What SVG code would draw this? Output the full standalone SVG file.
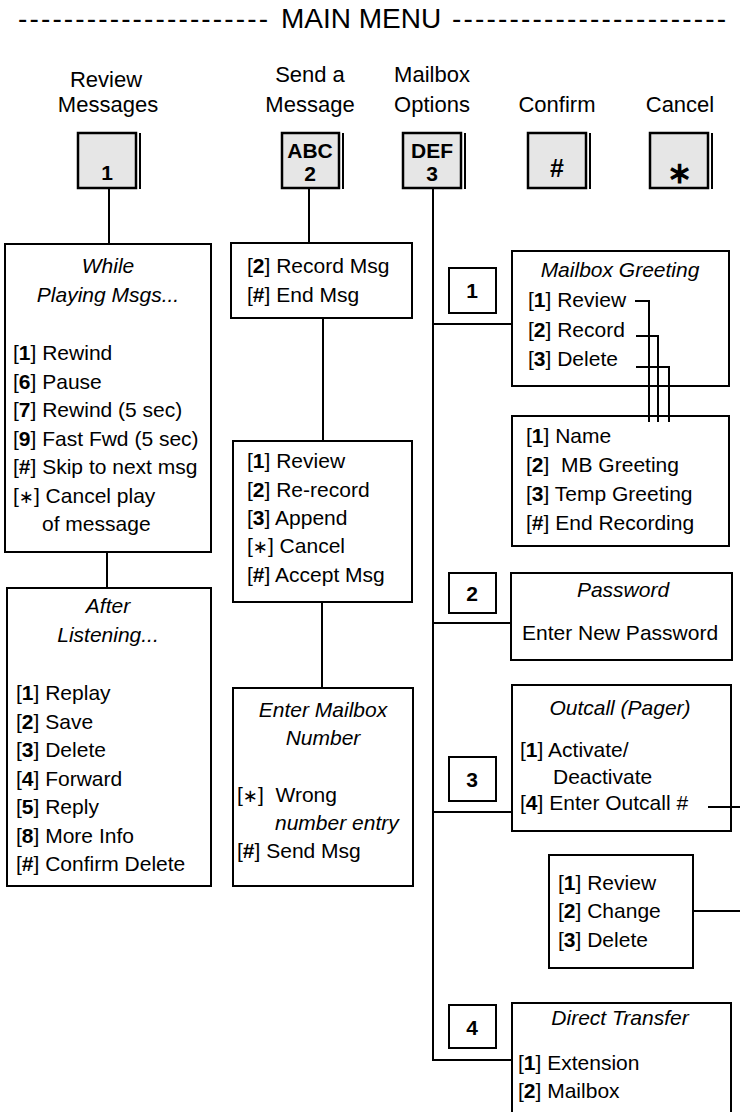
<svg xmlns="http://www.w3.org/2000/svg" width="740" height="1112" viewBox="0 0 740 1112">
<style>
text { font-family: "Liberation Sans", Arial, sans-serif; fill: #000; }
.it { font-size: 21px; }
.lb { font-size: 22px; text-anchor: middle; }
.ttl { font-size: 21px; font-style: italic; text-anchor: middle; }
.b { font-weight: bold; }
.st { font-family: "DejaVu Sans", sans-serif; font-weight: normal; font-size: 18px; }
.kt { font-size: 21px; font-weight: bold; text-anchor: middle; }
.kh { font-size: 25px; font-weight: bold; text-anchor: middle; }
.box { fill: #fff; stroke: #000; stroke-width: 2; }
.key { fill: #e6e6e6; stroke: #000; stroke-width: 2.5; }
.ln { stroke: #000; stroke-width: 2; fill: none; }
.nb { fill: #fff; stroke: #000; stroke-width: 2; }
</style>
<rect x="0" y="0" width="740" height="1112" fill="#fff"/>

<g id="title">
  <text x="18" y="28" font-size="28" textLength="250" lengthAdjust="spacing">----------------------</text>
  <text x="281" y="28" font-size="28">MAIN MENU</text>
  <text x="452" y="28" font-size="28" textLength="274" lengthAdjust="spacing">------------------------</text>
</g>

<g id="key-1">
  <text class="lb" x="106" y="87">Review</text>
  <text class="lb" x="108" y="112">Messages</text>
  <rect class="key" x="78" y="133" width="58" height="55"/>
  <line class="ln" x1="140" y1="133" x2="140" y2="189"/>
  <text class="kt" x="107" y="180">1</text>
</g>
<g id="key-2">
  <text class="lb" x="310" y="82">Send a</text>
  <text class="lb" x="310" y="112">Message</text>
  <rect class="key" x="282" y="133" width="57" height="55"/>
  <line class="ln" x1="343" y1="133" x2="343" y2="189"/>
  <text class="kt" x="310" y="158">ABC</text>
  <text class="kt" x="310" y="181">2</text>
</g>
<g id="key-3">
  <text class="lb" x="432" y="82">Mailbox</text>
  <text class="lb" x="432" y="112">Options</text>
  <rect class="key" x="403" y="133" width="58" height="55"/>
  <line class="ln" x1="465" y1="133" x2="465" y2="189"/>
  <text class="kt" x="432" y="158">DEF</text>
  <text class="kt" x="432" y="181">3</text>
</g>
<g id="key-hash">
  <text class="lb" x="557" y="112">Confirm</text>
  <rect class="key" x="528" y="133" width="58" height="55"/>
  <line class="ln" x1="590" y1="133" x2="590" y2="189"/>
  <text class="kh" x="557" y="177">#</text>
</g>
<g id="key-star">
  <text class="lb" x="680" y="112">Cancel</text>
  <rect class="key" x="650" y="133" width="58" height="55"/>
  <line class="ln" x1="712" y1="133" x2="712" y2="189"/>
  <text x="679" y="183" font-family="DejaVu Sans, sans-serif" font-weight="bold" font-size="30" text-anchor="middle">∗</text>
</g>

<g id="while-playing">
  <rect class="box" x="5" y="244" width="206" height="308"/>
  <text class="ttl" x="108" y="273">While</text>
  <text class="ttl" x="108" y="302">Playing Msgs...</text>
  <text class="it" x="13" y="360">[<tspan class="b">1</tspan>] Rewind</text>
  <text class="it" x="13" y="389">[<tspan class="b">6</tspan>] Pause</text>
  <text class="it" x="13" y="417">[<tspan class="b">7</tspan>] Rewind (5 sec)</text>
  <text class="it" x="13" y="446">[<tspan class="b">9</tspan>] Fast Fwd (5 sec)</text>
  <text class="it" x="13" y="474">[<tspan class="b">#</tspan>] Skip to next msg</text>
  <text class="it" x="13" y="503">[<tspan class="st">∗</tspan>] Cancel play</text>
  <text class="it" x="42" y="531">of message</text>
</g>

<g id="after-listening">
  <rect class="box" x="7" y="588" width="204" height="298"/>
  <text class="ttl" x="108" y="613">After</text>
  <text class="ttl" x="108" y="642">Listening...</text>
  <text class="it" x="16" y="700">[<tspan class="b">1</tspan>] Replay</text>
  <text class="it" x="16" y="729">[<tspan class="b">2</tspan>] Save</text>
  <text class="it" x="16" y="757">[<tspan class="b">3</tspan>] Delete</text>
  <text class="it" x="16" y="786">[<tspan class="b">4</tspan>] Forward</text>
  <text class="it" x="16" y="814">[<tspan class="b">5</tspan>] Reply</text>
  <text class="it" x="16" y="843">[<tspan class="b">8</tspan>] More Info</text>
  <text class="it" x="16" y="871">[<tspan class="b">#</tspan>] Confirm Delete</text>
</g>

<g id="record-msg">
  <rect class="box" x="231" y="243" width="181" height="75"/>
  <text class="it" x="247" y="273">[<tspan class="b">2</tspan>] Record Msg</text>
  <text class="it" x="247" y="302">[<tspan class="b">#</tspan>] End Msg</text>
</g>

<g id="after-record">
  <rect class="box" x="233" y="441" width="179" height="161"/>
  <text class="it" x="247" y="468">[<tspan class="b">1</tspan>] Review</text>
  <text class="it" x="247" y="497">[<tspan class="b">2</tspan>] Re-record</text>
  <text class="it" x="247" y="525">[<tspan class="b">3</tspan>] Append</text>
  <text class="it" x="247" y="553">[<tspan class="st">∗</tspan>] Cancel</text>
  <text class="it" x="247" y="582">[<tspan class="b">#</tspan>] Accept Msg</text>
</g>

<g id="enter-mailbox">
  <rect class="box" x="233" y="688" width="180" height="198"/>
  <text class="ttl" x="323" y="717">Enter Mailbox</text>
  <text class="ttl" x="323" y="745">Number</text>
  <text class="it" x="237" y="802" xml:space="preserve">[<tspan class="st">∗</tspan>]  Wrong</text>
  <text class="it" x="275" y="830" font-style="italic">number entry</text>
  <text class="it" x="237" y="858">[<tspan class="b">#</tspan>] Send Msg</text>
</g>

<g id="opt-1">
  <rect class="nb" x="449" y="268" width="47" height="45"/>
  <text class="kt" x="472" y="298">1</text>
</g>
<g id="mailbox-greeting">
  <rect class="box" x="512" y="251" width="217" height="135"/>
  <text class="ttl" x="620" y="277">Mailbox Greeting</text>
  <text class="it" x="528" y="307">[<tspan class="b">1</tspan>] Review</text>
  <text class="it" x="528" y="337">[<tspan class="b">2</tspan>] Record</text>
  <text class="it" x="528" y="366">[<tspan class="b">3</tspan>] Delete</text>
</g>
<g id="greeting-types">
  <rect class="box" x="512" y="416" width="217" height="130"/>
  <text class="it" x="526" y="443">[<tspan class="b">1</tspan>] Name</text>
  <text class="it" x="526" y="472" xml:space="preserve">[<tspan class="b">2</tspan>]  MB Greeting</text>
  <text class="it" x="526" y="501">[<tspan class="b">3</tspan>] Temp Greeting</text>
  <text class="it" x="526" y="530">[<tspan class="b">#</tspan>] End Recording</text>
</g>

<g id="opt-2">
  <rect class="nb" x="449" y="573" width="47" height="40"/>
  <text class="kt" x="472" y="601">2</text>
</g>
<g id="password">
  <rect class="box" x="511" y="573" width="221" height="87"/>
  <text class="ttl" x="623" y="597">Password</text>
  <text class="it" x="522" y="640">Enter New Password</text>
</g>

<g id="opt-3">
  <rect class="nb" x="449" y="757" width="47" height="44"/>
  <text class="kt" x="472" y="787">3</text>
</g>
<g id="outcall">
  <rect class="box" x="512" y="685" width="219" height="146"/>
  <text class="ttl" x="620" y="715">Outcall (Pager)</text>
  <text class="it" x="520" y="757">[<tspan class="b">1</tspan>] Activate/</text>
  <text class="it" x="553" y="784">Deactivate</text>
  <text class="it" x="520" y="810">[<tspan class="b">4</tspan>] Enter Outcall #</text>
</g>
<g id="outcall-number">
  <rect class="box" x="549" y="855" width="144" height="113"/>
  <text class="it" x="558" y="890">[<tspan class="b">1</tspan>] Review</text>
  <text class="it" x="558" y="918">[<tspan class="b">2</tspan>] Change</text>
  <text class="it" x="558" y="947">[<tspan class="b">3</tspan>] Delete</text>
</g>

<g id="opt-4">
  <rect class="nb" x="449" y="1005" width="47" height="43"/>
  <text class="kt" x="472" y="1035">4</text>
</g>
<g id="direct-transfer">
  <rect class="box" x="512" y="1003" width="219" height="120"/>
  <text class="ttl" x="620" y="1025">Direct Transfer</text>
  <text class="it" x="518" y="1070">[<tspan class="b">1</tspan>] Extension</text>
  <text class="it" x="518" y="1098">[<tspan class="b">2</tspan>] Mailbox</text>
</g>

<g id="connectors">
  <line class="ln" x1="109" y1="189" x2="109" y2="244"/>
  <line class="ln" x1="107" y1="552" x2="107" y2="588"/>
  <line class="ln" x1="309" y1="189" x2="309" y2="243"/>
  <line class="ln" x1="323" y1="318" x2="323" y2="441"/>
  <line class="ln" x1="322" y1="602" x2="322" y2="688"/>
  <polyline class="ln" points="433,189 433,1060 512,1060"/>
  <line class="ln" x1="433" y1="324" x2="512" y2="324"/>
  <line class="ln" x1="433" y1="623" x2="511" y2="623"/>
  <line class="ln" x1="433" y1="812" x2="512" y2="812"/>
  <polyline class="ln" points="635,301 649,301 649,422"/>
  <polyline class="ln" points="636,336 658,336 658,422"/>
  <polyline class="ln" points="636,367 669,367 669,422"/>
  <line class="ln" x1="708" y1="807" x2="740" y2="807"/>
  <line class="ln" x1="693" y1="911" x2="740" y2="911"/>
</g>
</svg>
